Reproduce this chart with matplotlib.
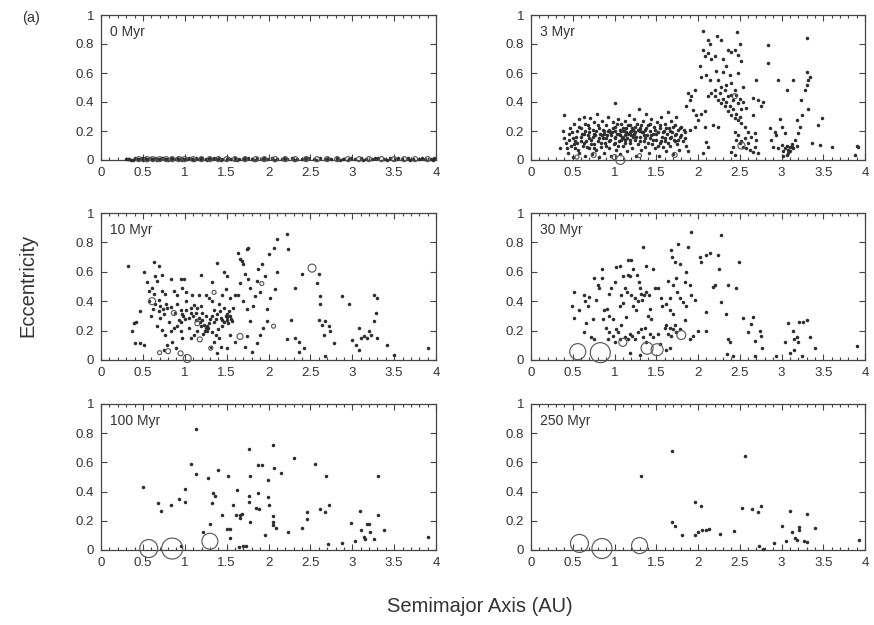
import numpy as np
import matplotlib
matplotlib.use("Agg")
import matplotlib.pyplot as plt
from matplotlib.ticker import MultipleLocator

plt.rcParams['font.family'] = ['Liberation Sans', 'DejaVu Sans']

labels = ["0 Myr", "3 Myr", "10 Myr", "30 Myr", "100 Myr", "250 Myr"]

# (a [AU], e) of small bodies
dots_0 = [(0.30,0.004),(0.34,0.008),(0.38,0.003),(0.41,0.012),(0.44,0.006),(0.47,0.010),(0.50,0.003),
          (0.53,0.014),(0.56,0.007),(0.59,0.011),(0.62,0.004),(0.65,0.013),(0.68,0.008),(0.71,0.005),
          (0.74,0.012),(0.77,0.009),(0.80,0.003),(0.83,0.015),(0.86,0.007),(0.89,0.010),(0.92,0.005),
          (0.95,0.013),(0.98,0.008),(1.01,0.004),(1.05,0.011),(1.09,0.007),(1.13,0.014),(1.17,0.005),
          (1.21,0.010),(1.25,0.008),(1.29,0.013),(1.33,0.004),(1.37,0.009),(1.41,0.012),(1.45,0.006),
          (1.50,0.010),(1.55,0.004),(1.60,0.013),(1.65,0.008),(1.70,0.005),(1.75,0.011),(1.80,0.007),
          (1.86,0.012),(1.92,0.004),(1.98,0.009),(2.04,0.013),(2.10,0.006),(2.16,0.010),(2.22,0.004),
          (2.28,0.012),(2.34,0.008),(2.40,0.005),(2.47,0.011),(2.54,0.007),(2.61,0.013),(2.68,0.004),
          (2.75,0.009),(2.82,0.012),(2.89,0.006),(2.96,0.010),(3.03,0.004),(3.10,0.012),(3.17,0.008),
          (3.24,0.005),(3.31,0.011),(3.38,0.007),(3.45,0.013),(3.52,0.004),(3.59,0.009),(3.66,0.012),
          (3.73,0.006),(3.80,0.010),(3.87,0.004),(3.94,0.008),(3.98,0.012),
          (0.32,0.010),(0.36,0.002),(0.43,0.009),(0.49,0.013),(0.55,0.002),(0.61,0.009),(0.67,0.003),
          (0.73,0.015),(0.79,0.006),(0.85,0.011),(0.91,0.014),(0.97,0.002),(1.03,0.009),(1.11,0.003),
          (1.19,0.013),(1.27,0.003),(1.35,0.012),(1.43,0.003),(1.52,0.014),(1.62,0.003),(1.72,0.013),
          (1.83,0.003),(1.95,0.013),(2.07,0.003),(2.19,0.013),(2.31,0.003),(2.44,0.014),(2.57,0.003),
          (2.71,0.013),(2.85,0.003),(2.99,0.014),(3.13,0.003),(3.27,0.013),(3.41,0.003),(3.55,0.013),
          (3.69,0.003),(3.83,0.013),(3.96,0.003)]

dots_3 = [(0.35,0.08),(0.38,0.20),(0.40,0.31),(0.42,0.12),(0.44,0.05),(0.45,0.18),(0.47,0.22),(0.48,0.10),
          (0.50,0.15),(0.50,0.02),(0.52,0.25),(0.53,0.08),(0.55,0.20),(0.55,0.12),(0.57,0.28),(0.58,0.05),
          (0.60,0.16),(0.60,0.22),(0.62,0.10),(0.63,0.30),(0.64,0.18),(0.65,0.03),(0.66,0.13),(0.68,0.24),
          (0.69,0.08),(0.70,0.19),(0.71,0.29),(0.72,0.14),(0.73,0.04),(0.74,0.21),(0.75,0.11),(0.76,0.26),
          (0.77,0.17),(0.78,0.07),(0.79,0.32),(0.80,0.13),(0.81,0.22),(0.82,0.02),(0.83,0.18),(0.84,0.09),
          (0.85,0.27),(0.86,0.15),(0.87,0.20),(0.88,0.05),(0.89,0.12),(0.90,0.24),(0.91,0.17),(0.92,0.30),
          (0.93,0.08),(0.94,0.21),(0.95,0.14),(0.96,0.03),(0.97,0.19),(0.98,0.26),(0.99,0.11),(1.00,0.39),
          (1.00,0.16),(1.01,0.23),(1.02,0.07),(1.03,0.18),(1.04,0.28),(1.05,0.13),(1.06,0.21),(1.07,0.04),
          (1.08,0.25),(1.09,0.16),(1.10,0.10),(1.11,0.20),(1.12,0.27),(1.13,0.14),(1.14,0.22),(1.15,0.06),
          (1.16,0.18),(1.17,0.31),(1.18,0.12),(1.19,0.24),(1.20,0.17),(1.21,0.08),(1.22,0.21),(1.23,0.28),
          (1.24,0.14),(1.25,0.19),(1.26,0.03),(1.27,0.25),(1.28,0.11),(1.29,0.35),(1.30,0.16),(1.31,0.22),
          (1.32,0.07),(1.33,0.19),(1.34,0.27),(1.35,0.13),(1.36,0.21),(1.37,0.09),(1.38,0.32),(1.39,0.17),
          (1.40,0.24),(1.41,0.05),(1.42,0.15),(1.43,0.20),(1.44,0.28),(1.45,0.11),(1.46,0.18),(1.47,0.23),
          (1.48,0.08),(1.50,0.14),(1.51,0.26),(1.52,0.19),(1.53,0.03),(1.54,0.12),(1.55,0.22),(1.56,0.30),
          (1.57,0.16),(1.58,0.09),(1.59,0.20),(1.60,0.25),(1.61,0.13),(1.62,0.06),(1.63,0.18),(1.64,0.33),
          (1.65,0.22),(1.66,0.15),(1.67,0.10),(1.68,0.27),(1.69,0.19),(1.70,0.04),(1.71,0.14),(1.72,0.24),
          (1.73,0.17),(1.74,0.30),(1.75,0.11),(1.76,0.21),(1.77,0.07),(1.78,0.16),(1.80,0.23),(1.82,0.13),
          (1.84,0.19),(1.86,0.10),(1.88,0.06),
          (0.95,0.19),(1.00,0.20),(1.05,0.18),(1.10,0.22),(1.15,0.15),(1.20,0.20),(1.25,0.23),(0.85,0.17),
          (0.90,0.15),(1.12,0.17),(1.18,0.19),(1.30,0.20),(1.35,0.17),(1.00,0.12),(1.08,0.14),(1.22,0.16),
          (0.70,0.15),(0.75,0.18),(0.60,0.13),(0.65,0.20),
          (0.40,0.15),(0.43,0.08),(0.46,0.14),(0.49,0.19),(0.51,0.11),(0.54,0.16),(0.56,0.07),(0.58,0.23),
          (0.61,0.18),(0.63,0.12),(0.65,0.25),(0.67,0.09),(0.68,0.17),(0.70,0.22),(0.72,0.11),(0.74,0.16),
          (0.76,0.08),(0.78,0.20),(0.80,0.24),(0.82,0.15),(0.84,0.12),(0.86,0.21),(0.88,0.18),(0.90,0.10),
          (0.92,0.20),(0.94,0.13),(0.96,0.17),(0.98,0.22),(1.01,0.15),(1.03,0.25),(1.04,0.10),(1.06,0.17),
          (1.08,0.20),(1.10,0.15),(1.12,0.12),(1.14,0.19),(1.16,0.24),(1.19,0.14),(1.21,0.22),(1.23,0.18),
          (1.26,0.16),(1.28,0.21),(1.30,0.13),(1.32,0.24),(1.34,0.19),(1.36,0.15),(1.38,0.22),(1.40,0.12),
          (1.42,0.25),(1.44,0.17),(1.46,0.14),(1.48,0.21),(1.50,0.18),(1.52,0.10),(1.54,0.24),(1.56,0.13),
          (1.58,0.19),(1.60,0.15),(1.62,0.22),(1.64,0.12),(1.66,0.20),(1.68,0.16),(1.70,0.23),(1.72,0.13),
          (1.74,0.18),(1.76,0.14),(1.78,0.22),(1.80,0.17),(1.83,0.21),(1.85,0.15),(1.90,0.21),(0.53,0.13),
          (2.06,0.89),(2.12,0.83),(2.14,0.80),(2.06,0.76),(2.08,0.72),(2.12,0.74),(2.15,0.70),(2.20,0.72),
          (2.23,0.855),(2.28,0.83),(2.30,0.70),(2.36,0.76),(2.40,0.745),(2.47,0.88),(2.50,0.80),(2.44,0.76),
          (2.48,0.725),(2.02,0.645),(2.04,0.575),(2.10,0.585),(2.14,0.55),(2.21,0.615),(2.24,0.55),(2.34,0.645),
          (2.30,0.61),(2.38,0.585),(2.48,0.60),(2.52,0.68),(2.70,0.55),(2.84,0.79),(2.84,0.67),(2.54,0.505),
          (2.40,0.53),(2.34,0.52),(2.28,0.505),(2.20,0.48),(2.16,0.46),(2.12,0.44),(2.20,0.44),(2.24,0.415),
          (2.28,0.39),(2.32,0.37),(2.36,0.335),(2.40,0.31),(2.44,0.29),(2.48,0.275),(2.52,0.255),(2.36,0.44),
          (2.42,0.415),(2.48,0.39),(2.52,0.355),(2.46,0.45),(2.44,0.485),(1.96,0.485),(1.92,0.44),(1.88,0.46),
          (1.90,0.415),(1.86,0.37),(1.94,0.345),(1.98,0.31),(2.04,0.32),(2.08,0.335),(2.00,0.275),(1.96,0.23),
          (2.08,0.23),(2.10,0.125),(2.12,0.09),(2.06,0.045),(2.18,0.24),(2.24,0.23),(2.44,0.195),(2.48,0.17),
          (2.46,0.14),(2.50,0.115),(2.54,0.09),(2.58,0.08),(2.62,0.07),(2.66,0.055),(2.68,0.09),(2.64,0.16),
          (2.68,0.185),(2.70,0.14),(2.56,0.23),(2.60,0.195),(2.66,0.425),(2.72,0.415),(2.78,0.40),(2.76,0.37),
          (2.42,0.09),(2.40,0.055),(2.44,0.035),(2.72,0.045),(2.66,0.31),
          (2.30,0.42),(2.34,0.40),(2.38,0.37),(2.42,0.35),(2.46,0.32),(2.50,0.30),(2.26,0.46),(2.32,0.48),
          (2.40,0.45),(2.50,0.42),(2.54,0.40),(2.58,0.36),(2.56,0.15),(2.60,0.12),(2.52,0.13),
          (2.86,0.22),(2.92,0.195),(2.94,0.17),(2.98,0.285),(3.00,0.23),(3.04,0.185),(3.06,0.48),(2.96,0.55),
          (2.88,0.14),(2.90,0.09),(2.96,0.08),(3.00,0.105),(3.04,0.08),(3.08,0.07),(3.10,0.06),(3.12,0.09),
          (3.14,0.08),(3.06,0.035),(3.02,0.025),(3.16,0.14),(3.20,0.185),(3.22,0.23),(3.24,0.31),(3.18,0.275),
          (3.23,0.415),(3.28,0.48),(3.30,0.84),(3.30,0.61),(3.32,0.55),(3.34,0.57),(3.30,0.52),(3.32,0.355),
          (3.36,0.115),(3.44,0.24),(3.48,0.29),(3.60,0.09),(3.46,0.105),(3.14,0.55),(3.90,0.10),(3.92,0.09),
          (3.88,0.035),(3.06,0.10),(3.10,0.09),(3.08,0.05),(3.12,0.11),(3.18,0.10),(3.02,0.06)]

dots_10 = [(0.32,0.64),(0.39,0.25),(0.37,0.195),(0.41,0.115),(0.47,0.115),(0.51,0.10),(0.42,0.26),(0.47,0.33),
           (0.51,0.60),(0.55,0.53),(0.57,0.47),(0.61,0.49),(0.63,0.67),(0.65,0.57),(0.67,0.54),(0.69,0.64),
           (0.73,0.58),(0.63,0.45),(0.57,0.40),(0.65,0.38),(0.69,0.41),(0.73,0.47),(0.77,0.45),(0.69,0.33),
           (0.71,0.285),(0.75,0.31),(0.79,0.355),(0.81,0.26),(0.83,0.55),(0.87,0.47),(0.91,0.445),(0.95,0.55),
           (0.99,0.55),(0.97,0.49),(1.01,0.46),(0.91,0.38),(0.95,0.34),(0.97,0.31),(1.01,0.40),(0.67,0.23),
           (0.73,0.205),(0.77,0.17),(0.83,0.195),(0.87,0.215),(0.91,0.23),(0.95,0.195),(0.79,0.10),(0.85,0.125),
           (0.89,0.08),(0.75,0.07),(0.97,0.15),
           (1.05,0.285),(1.07,0.355),(1.09,0.445),(1.11,0.375),(1.13,0.32),(1.15,0.355),(1.19,0.365),(1.17,0.285),
           (1.21,0.275),(1.23,0.24),(1.25,0.215),(1.27,0.195),(1.29,0.25),(1.19,0.23),(1.15,0.195),(1.11,0.17),
           (1.07,0.15),(1.19,0.58),(1.17,0.445),(1.25,0.445),(1.29,0.42),(1.33,0.53),(1.39,0.66),(1.33,0.40),
           (1.35,0.34),(1.39,0.31),(1.41,0.38),(1.43,0.285),(1.45,0.23),(1.49,0.30),(1.51,0.275),(1.54,0.30),
           (1.56,0.265),(1.53,0.33),(1.47,0.355),(1.45,0.445),(1.49,0.48),(1.54,0.42),(1.58,0.355),(1.60,0.445),
           (1.47,0.60),(1.51,0.57),(1.37,0.17),(1.41,0.15),(1.35,0.125),(1.31,0.09),(1.43,0.09),(1.51,0.08),
           (1.39,0.045),(1.54,0.17),(1.60,0.125),
           (1.25,0.30),(1.30,0.28),(1.20,0.32),(1.35,0.26),(1.45,0.27),(1.50,0.29),(1.52,0.25),(1.28,0.22),
           (1.22,0.18),(1.10,0.30),(1.00,0.28),(1.05,0.22),(0.95,0.26),(1.40,0.21),(1.33,0.19),
           (1.18,0.26),(1.24,0.20),(1.27,0.23),(1.32,0.30),(1.37,0.28),(1.42,0.33),(1.47,0.26),(1.50,0.31),
           (1.55,0.28),(1.13,0.27),(1.08,0.32),(1.02,0.34),(0.98,0.30),(0.93,0.27),(0.88,0.32),(0.83,0.36),
           (0.78,0.38),(0.74,0.35),(0.70,0.37),(0.62,0.35),(0.60,0.30),
           (1.64,0.73),(1.66,0.685),(1.68,0.675),(1.70,0.65),(1.74,0.755),(1.76,0.765),(1.72,0.585),(1.76,0.55),
           (1.78,0.49),(1.66,0.525),(1.64,0.445),(1.70,0.40),(1.74,0.345),(1.78,0.265),(1.82,0.365),(1.86,0.54),
           (1.88,0.62),(1.92,0.65),(1.84,0.435),(1.90,0.46),(1.96,0.57),(2.00,0.72),(2.06,0.765),(2.10,0.825),
           (1.98,0.265),(1.94,0.215),(1.90,0.17),(1.86,0.115),(1.74,0.16),(1.72,0.09),(1.80,0.055),(1.98,0.345),
           (2.02,0.425),(2.08,0.48),(2.10,0.60),(2.22,0.86),(2.23,0.755),(2.27,0.27),(2.22,0.14),(2.32,0.49),
           (2.32,0.15),(2.36,0.125),(2.40,0.585),(2.36,0.055),(2.42,0.08),(2.58,0.525),(2.60,0.585),(2.62,0.435),
           (2.62,0.38),(2.60,0.275),(2.64,0.24),(2.68,0.265),(2.72,0.23),(2.74,0.195),(2.66,0.17),(2.78,0.115),
           (2.88,0.435),(2.96,0.38),(3.00,0.135),(3.04,0.10),(3.08,0.215),(3.10,0.15),(3.14,0.16),(3.18,0.15),
           (3.20,0.195),(3.22,0.17),(3.26,0.445),(3.30,0.42),(3.28,0.32),(3.26,0.265),(3.30,0.15),(3.42,0.10),
           (3.90,0.085),(3.08,0.07),(2.68,0.025),(3.50,0.035)]

dots_30 = [(0.51,0.46),(0.49,0.37),(0.52,0.285),(0.58,0.34),(0.63,0.44),(0.65,0.40),(0.68,0.37),(0.70,0.43),
           (0.75,0.56),(0.80,0.51),(0.85,0.56),(0.85,0.62),(0.82,0.49),(0.78,0.41),(0.74,0.28),(0.66,0.25),
           (0.63,0.19),(0.72,0.155),(0.76,0.14),(0.88,0.34),(0.91,0.35),(0.86,0.28),(0.94,0.30),(0.98,0.28),
           (1.00,0.53),(0.96,0.49),(0.94,0.45),(1.02,0.63),(1.06,0.64),(1.10,0.57),(1.16,0.68),(1.20,0.68),
           (1.22,0.62),(1.16,0.58),(1.19,0.57),(1.12,0.49),(1.08,0.44),(1.06,0.37),(1.10,0.39),(1.14,0.29),
           (1.08,0.235),(1.04,0.19),(0.98,0.165),(0.94,0.19),(0.92,0.14),(1.01,0.125),(1.06,0.145),(1.12,0.155),
           (1.16,0.14),(1.18,0.18),(1.21,0.165),(1.24,0.145),(1.28,0.19),(1.32,0.21),(1.34,0.155),(1.38,0.12),
           (1.42,0.18),(1.46,0.155),(1.52,0.18),(1.34,0.77),(1.38,0.64),(1.27,0.58),(1.29,0.53),(1.30,0.49),
           (1.32,0.45),(1.35,0.44),(1.38,0.46),(1.41,0.44),(1.46,0.62),(1.48,0.49),(1.52,0.49),(1.42,0.35),
           (1.40,0.30),(1.44,0.28),(1.26,0.34),(1.22,0.37),(1.20,0.44),(1.56,0.42),(1.57,0.37),(1.62,0.38),
           (1.66,0.42),(1.64,0.54),(1.68,0.75),(1.69,0.70),(1.72,0.67),(1.76,0.79),(1.78,0.655),(1.74,0.555),
           (1.70,0.51),(1.67,0.34),(1.70,0.315),(1.75,0.46),(1.78,0.42),(1.82,0.395),(1.86,0.37),(1.88,0.77),
           (1.92,0.87),(1.86,0.60),(1.90,0.51),(1.84,0.53),(1.92,0.44),(1.96,0.405),(1.62,0.235),(1.66,0.22),
           (1.70,0.21),(1.74,0.19),(1.78,0.21),(1.84,0.27),(1.90,0.145),(1.94,0.165),(2.00,0.20),(2.10,0.195),
           (2.09,0.325),(2.02,0.70),(2.04,0.67),(2.10,0.715),(2.14,0.725),(2.18,0.50),(2.20,0.51),(2.24,0.715),
           (2.25,0.62),(2.28,0.85),(2.27,0.395),(2.34,0.315),(2.36,0.51),(2.46,0.49),(2.49,0.67),(2.54,0.285),
           (2.66,0.29),(2.64,0.245),(2.60,0.19),(2.68,0.13),(2.74,0.20),(2.76,0.165),(2.77,0.085),(2.36,0.145),
           (2.38,0.12),(2.35,0.04),(2.68,0.03),(3.04,0.12),(3.08,0.25),(3.14,0.195),(3.15,0.145),(3.18,0.155),
           (3.20,0.12),(3.21,0.26),(3.26,0.26),(3.30,0.275),(3.34,0.155),(3.40,0.085),(3.10,0.05),(3.15,0.07),
           (3.24,0.03),(3.90,0.095),(2.42,0.03),(2.94,0.03),(1.18,0.05),(1.30,0.035),(1.62,0.065),(1.66,0.085),
           (1.54,0.11),(1.25,0.42),(1.28,0.40),(1.33,0.41),(1.15,0.46),(1.60,0.22),(1.64,0.18),(1.68,0.16),
           (1.72,0.24),(0.90,0.22),(1.02,0.21),(1.36,0.22)]

dots_100 = [(0.50,0.43),(0.68,0.32),(0.72,0.27),(0.84,0.31),(0.93,0.35),(1.00,0.415),(1.00,0.33),(1.08,0.59),
            (1.14,0.83),(1.14,0.52),(1.28,0.49),(1.32,0.32),(1.34,0.39),(1.36,0.37),(1.30,0.18),(1.22,0.12),
            (1.40,0.55),(1.45,0.24),(1.52,0.51),(1.51,0.145),(1.54,0.145),(1.54,0.08),(1.58,0.31),(1.62,0.41),
            (1.61,0.24),(1.66,0.24),(1.68,0.25),(1.66,0.22),(1.77,0.69),(1.78,0.51),(1.77,0.37),(1.77,0.33),
            (1.78,0.19),(1.87,0.58),(1.92,0.58),(1.87,0.39),(1.85,0.29),(1.89,0.28),(1.96,0.105),(1.99,0.48),
            (1.99,0.36),(2.01,0.31),(2.05,0.72),(2.07,0.56),(2.05,0.23),(2.05,0.19),(2.05,0.17),(2.09,0.15),
            (2.15,0.53),(2.23,0.12),(2.30,0.63),(2.40,0.15),(2.46,0.26),(2.46,0.21),(2.56,0.59),(2.62,0.28),
            (2.68,0.26),(2.69,0.51),(2.72,0.31),(2.71,0.04),(2.88,0.05),(2.98,0.185),(3.03,0.065),(3.09,0.27),
            (3.11,0.14),(3.14,0.09),(3.15,0.075),(3.18,0.18),(3.20,0.18),(3.21,0.12),(3.26,0.075),(3.31,0.24),
            (3.31,0.51),(3.38,0.14),(3.90,0.09),(1.73,0.025),(1.65,0.02),(1.70,0.025),(0.95,0.03)]

dots_250 = [(1.32,0.51),(1.69,0.68),(1.69,0.19),(1.73,0.165),(1.81,0.10),(1.97,0.33),(2.03,0.30),(1.97,0.10),
            (2.00,0.12),(2.05,0.135),(2.09,0.14),(2.13,0.145),(2.26,0.11),(2.43,0.13),(2.53,0.285),(2.56,0.645),
            (2.65,0.28),(2.72,0.26),(2.76,0.30),(2.73,0.03),(2.78,0.01),(2.91,0.05),(3.01,0.165),(3.05,0.06),
            (3.10,0.265),(3.13,0.12),(3.16,0.085),(3.18,0.067),(3.21,0.16),(3.21,0.135),(3.27,0.062),(3.31,0.058),
            (3.30,0.245),(3.40,0.15),(3.93,0.07)]

# embryos: (a, e, circle diameter in px as drawn)
circ_0 = [(a, 0.006, 5) for a in [0.45,0.55,0.62,0.70,0.78,0.85,0.93,1.00,1.10,1.20,1.30,1.40,1.50,1.60,1.72,
                                  1.85,1.95,2.08,2.20,2.32,2.45,2.58,2.70,2.82,2.95,3.08,3.20,3.35,3.50,3.62,3.75,3.90]]
circ_3 = [(1.07,0.0,9),(0.75,0.035,5),(1.00,0.02,5),(1.72,0.035,5),(2.52,0.10,7),(0.55,0.02,4),(2.44,0.44,5),(1.30,0.03,4)]
circ_10 = [(0.61,0.40,7),(0.87,0.32,5),(1.03,0.01,8),(0.95,0.045,5),(0.80,0.06,5),(1.66,0.16,6),(2.52,0.625,8),
           (1.92,0.52,4),(1.35,0.46,4),(1.15,0.25,5),(2.06,0.23,4),(1.31,0.08,4),(1.18,0.14,5),(0.70,0.05,4)]
circ_30 = [(0.56,0.057,16),(0.83,0.05,20),(1.10,0.12,8),(1.39,0.08,12),(1.51,0.07,12),(1.80,0.17,9)]
circ_100 = [(0.57,0.01,18),(0.85,0.01,21),(1.30,0.06,16)]
circ_250 = [(0.58,0.045,18),(0.85,0.01,20),(1.30,0.03,16)]

dots = [dots_0, dots_3, dots_10, dots_30, dots_100, dots_250]
circs = [circ_0, circ_3, circ_10, circ_30, circ_100, circ_250]

W, H = 874, 625
fig = plt.figure(figsize=(W / 100, H / 100), dpi=100)
cols = [(101, 436), (531, 865)]
rows = [(15, 160), (213, 360), (404, 550)]

for i in range(6):
    (x0, x1), (y0, y1) = cols[i % 2], rows[i // 2]
    ax = fig.add_axes([x0 / W, 1 - y1 / H, (x1 - x0) / W, (y1 - y0) / H])
    a, e = np.array(dots[i]).T
    ax.scatter(a, e, s=6.5, c="#2e2e2e", lw=0, clip_on=False, zorder=3)
    ca, ce, cd = np.array(circs[i]).T
    ax.scatter(ca, ce, s=(cd * 0.72) ** 2, facecolors="none", edgecolors="#5a5a5a",
               lw=0.85, clip_on=False, zorder=4)
    ax.set_xlim(0, 4)
    ax.set_ylim(0, 1)
    ax.set_xticks(np.arange(0, 4.01, 0.5))
    ax.set_xticklabels(["0", "0.5", "1", "1.5", "2", "2.5", "3", "3.5", "4"])
    ax.set_yticks(np.arange(0, 1.01, 0.2))
    ax.set_yticklabels(["0", "0.2", "0.4", "0.6", "0.8", "1"])
    ax.xaxis.set_minor_locator(MultipleLocator(0.1))
    ax.tick_params(which="both", direction="in", top=True, right=True, labelsize=9.5,
                   colors="#444444", labelcolor="#333333", width=0.8)
    ax.tick_params(which="major", length=4, pad=5)
    ax.tick_params(which="minor", length=2)
    for s in ax.spines.values():
        s.set_color("#444444")
        s.set_linewidth(0.9)
    ax.text(0.027, 0.93, labels[i], transform=ax.transAxes, fontsize=10, va="top",
            ha="left", color="#333333")

fig.text(22 / W, 1 - 18 / H, "(a)", fontsize=10.5, color="#333333", va="center", ha="left")
fig.text(28 / W, 1 - 285 / H, "Eccentricity", rotation=90, fontsize=14.5, color="#333333",
         va="center", ha="center")
fig.text(480 / W, 1 - 606 / H, "Semimajor Axis (AU)", fontsize=14.5, color="#333333",
         va="center", ha="center")

fig.savefig("out.png", dpi=100)
